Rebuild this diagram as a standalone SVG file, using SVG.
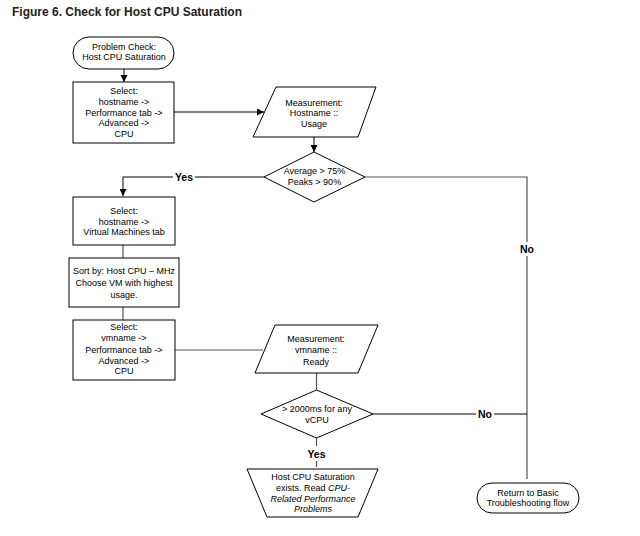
<svg xmlns="http://www.w3.org/2000/svg" width="640" height="536" viewBox="0 0 640 536">
<defs>
<marker id="arr" viewBox="0 0 10 10" refX="10" refY="5" markerWidth="7" markerHeight="7" markerUnits="userSpaceOnUse" orient="auto"><path d="M0,0 L10,5 L0,10 z" fill="#000"/></marker>
<style>
.s{fill:#fff;stroke:#000;stroke-width:1}
.t{font-family:"Liberation Sans",Arial,sans-serif;font-size:9px;fill:#000;text-anchor:middle}
.l{font-family:"Liberation Sans",Arial,sans-serif;font-size:10.5px;font-weight:bold;fill:#000;text-anchor:middle}
.c{fill:none;stroke:#000;stroke-width:1}
.g{fill:none;stroke:#555;stroke-width:1.2}
</style>
</defs>
<rect width="640" height="536" fill="#fff"/>
<text x="12" y="16" font-family="Liberation Sans,Arial,sans-serif" font-size="12" font-weight="bold" fill="#222">Figure 6. Check for Host CPU Saturation</text>
<g id="connectors">
<path class="c" d="M124,69 V82" marker-end="url(#arr)"/>
<path class="c" d="M174,112 H264" marker-end="url(#arr)"/>
<path class="c" d="M314,137 V152" marker-end="url(#arr)"/>
<path class="c" d="M264,177 H195"/>
<path class="c" d="M173,177 H123 V196" marker-end="url(#arr)"/>
<path class="g" d="M365,177 H527 V242 M527,256 V479"/>
<path class="g" d="M123,245 V258 M123,307 V320"/>
<path class="g" d="M175,350 H263"/>
<path class="g" d="M316.5,373 V390"/>
<path class="g" d="M316.5,438 V446 M316.5,461 V467"/>
<path class="c" d="M373,414 H476 M494,414 H527"/>
<text class="l" x="184" y="181">Yes</text>
<text class="l" x="527" y="253">No</text>
<text class="l" x="485" y="418">No</text>
<text class="l" x="316.5" y="458">Yes</text>
</g>
<g id="start">
<rect class="s" x="73" y="37" width="101" height="32" rx="16"/>
<text class="t" x="124" y="50">Problem Check:</text>
<text class="t" x="124" y="60">Host CPU Saturation</text>
</g>
<g id="select1">
<rect class="s" x="73" y="82" width="101" height="61"/>
<text class="t" x="124" y="94">Select:</text>
<text class="t" x="124" y="104.5">hostname -&gt;</text>
<text class="t" x="124" y="115.5">Performance tab -&gt;</text>
<text class="t" x="124" y="125.5">Advanced -&gt;</text>
<text class="t" x="124" y="136.5">CPU</text>
</g>
<g id="measure1">
<polygon class="s" points="276,87 376,87 358,137 253,137"/>
<text class="t" x="314" y="106">Measurement:</text>
<text class="t" x="314" y="116">Hostname ::</text>
<text class="t" x="314" y="126.5">Usage</text>
</g>
<g id="decision1">
<polygon class="s" points="314,152 365,177 314,202 264,177"/>
<text class="t" x="314.5" y="174">Average &gt; 75%</text>
<text class="t" x="314.5" y="185">Peaks &gt; 90%</text>
</g>
<g id="select2">
<rect class="s" x="73" y="197" width="102" height="48"/>
<text class="t" x="124" y="214">Select:</text>
<text class="t" x="124" y="225">hostname -&gt;</text>
<text class="t" x="124" y="235">Virtual Machines tab</text>
</g>
<g id="sort">
<rect class="s" x="69" y="258" width="110" height="49"/>
<text class="t" x="124" y="274">Sort by: Host CPU – MHz</text>
<text class="t" x="124" y="286">Choose VM with highest</text>
<text class="t" x="124" y="298">usage.</text>
</g>
<g id="select3">
<rect class="s" x="73" y="320" width="102" height="60"/>
<text class="t" x="124" y="330">Select:</text>
<text class="t" x="124" y="341">vmname -&gt;</text>
<text class="t" x="124" y="353">Performance tab -&gt;</text>
<text class="t" x="124" y="364">Advanced -&gt;</text>
<text class="t" x="124" y="374">CPU</text>
</g>
<g id="measure2">
<polygon class="s" points="275,325 378,325 358,373 255,373"/>
<text class="t" x="316" y="342">Measurement:</text>
<text class="t" x="316" y="353">vmname ::</text>
<text class="t" x="316" y="365">Ready</text>
</g>
<g id="decision2">
<polygon class="s" points="316.5,390 373,414 316.5,438 261,414"/>
<text class="t" x="317" y="412">&gt; 2000ms for any</text>
<text class="t" x="317" y="423">vCPU</text>
</g>
<g id="result">
<polygon class="s" points="247,469 378,469 358,517 267,517"/>
<text class="t" x="313" y="480">Host CPU Saturation</text>
<text class="t" x="313" y="491">exists. Read <tspan font-style="italic">CPU-</tspan></text>
<text class="t" x="313" y="502" font-style="italic">Related Performance</text>
<text class="t" x="313" y="512" font-style="italic">Problems</text>
</g>
<g id="return">
<rect class="s" x="477" y="483" width="102" height="30" rx="15"/>
<text class="t" x="528" y="496">Return to Basic</text>
<text class="t" x="528" y="506">Troubleshooting flow</text>
</g>
</svg>
